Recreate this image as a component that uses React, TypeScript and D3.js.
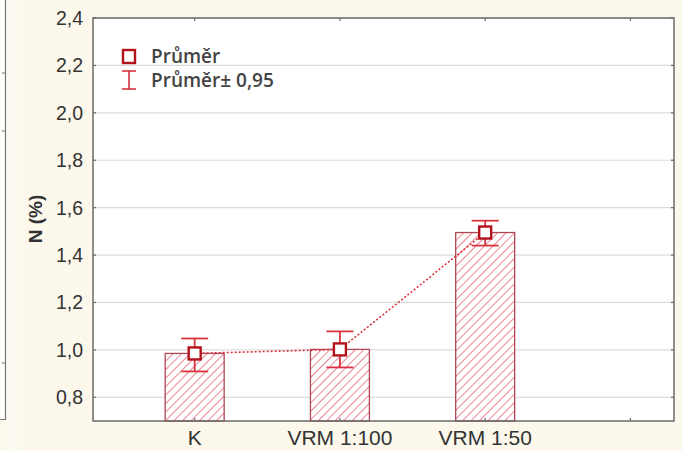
import React from "react";
import * as d3 from "d3";

const categories = ["K", "VRM 1:100", "VRM 1:50"];
const means = [0.985, 1.002, 1.495];
const upper = [1.048, 1.078, 1.545];
const lower = [0.909, 0.926, 1.44];
const yTicks = [0.8, 1.0, 1.2, 1.4, 1.6, 1.8, 2.0, 2.2, 2.4];
const xSlots = [1, 2, 3, 4];
const legendLabels = ["Průměr", "Průměr± 0,95"];
const yLabel = "N (%)";

const W = 682;
const H = 451;
const left = 93;
const right = 674;
const top = 18;
const bottom = 421;

export default function App() {
  const x = d3.scaleLinear().domain([0.3, 4.3]).range([left, right]);
  const y = d3.scaleLinear().domain([0.7, 2.4]).range([bottom, top]);
  const barW = x(1.406) - x(1);
  const fmt = (v: number) => v.toFixed(1).replace(".", ",");
  const line = d3
    .line<number>()
    .x((_, i) => x(i + 1))
    .y((d) => y(d));
  const markRed = "#b3121c";
  const errRed = "#d9343f";
  const axisCol = "#6a6a6a";
  const capW = 27;

  return (
    <svg
      width={W}
      height={H}
      style={{ position: "absolute", left: 0, top: 0 }}
      fontFamily="'Liberation Sans', Arial, sans-serif"
    >
      <defs>
        <pattern
          id="hatch"
          patternUnits="userSpaceOnUse"
          width={6}
          height={6}
          patternTransform="rotate(45)"
        >
          <rect width={6} height={6} fill="#ffffff" />
          <line x1={0} y1={0} x2={0} y2={6} stroke="#e46a76" strokeWidth={1.6} />
        </pattern>
      </defs>
      <rect x={0} y={0} width={W} height={H} fill="#fcf8ec" />
      {/* neighbour panel edge */}
      <rect x={0} y={0} width={5} height={419} fill="#fdfdfb" />
      <rect x={6} y={0} width={12} height={H} fill="#fdfaf2" />
      <path d="M5.5,0 V419.5 H0" fill="none" stroke="#777" strokeWidth={1.2} />
      {[73, 131, 363].map((t) => (
        <line key={t} x1={2} x2={5} y1={t} y2={t} stroke="#777" />
      ))}

      {/* plot area */}
      <rect x={left} y={top} width={right - left} height={bottom - top} fill="#ffffff" />
      {yTicks.map((t) => (
        <line
          key={"g" + t}
          x1={left}
          x2={right}
          y1={y(t)}
          y2={y(t)}
          stroke="#dcdcdc"
          strokeWidth={1.2}
        />
      ))}

      {/* bars */}
      {categories.map((c, i) => (
        <rect
          key={"b" + c}
          x={x(i + 1) - barW / 2}
          y={y(means[i])}
          width={barW}
          height={bottom - y(means[i])}
          fill="url(#hatch)"
          stroke="#b04654"
          strokeWidth={1.3}
        />
      ))}

      {/* dotted line */}
      <path
        d={line(means) || ""}
        fill="none"
        stroke={errRed}
        strokeWidth={1.6}
        strokeDasharray="2,2"
      />

      {/* error bars */}
      {categories.map((c, i) => {
        const cx = x(i + 1);
        return (
          <g key={"e" + c} stroke={errRed} strokeWidth={1.8}>
            <line x1={cx} x2={cx} y1={y(upper[i])} y2={y(lower[i])} />
            <line x1={cx - capW / 2} x2={cx + capW / 2} y1={y(upper[i])} y2={y(upper[i])} />
            <line x1={cx - capW / 2} x2={cx + capW / 2} y1={y(lower[i])} y2={y(lower[i])} />
          </g>
        );
      })}

      {/* markers */}
      {categories.map((c, i) => (
        <rect
          key={"m" + c}
          x={x(i + 1) - 6}
          y={y(means[i]) - 6}
          width={12}
          height={12}
          fill="#ffffff"
          stroke={markRed}
          strokeWidth={2.4}
        />
      ))}

      {/* frame */}
      <rect
        x={left}
        y={top}
        width={right - left}
        height={bottom - top}
        fill="none"
        stroke={axisCol}
        strokeWidth={1.5}
      />
      {yTicks.map((t) => (
        <g key={"t" + t} stroke={axisCol} strokeWidth={1.2}>
          <line x1={left} x2={left + 3} y1={y(t)} y2={y(t)} />
          <line x1={right - 3} x2={right} y1={y(t)} y2={y(t)} />
        </g>
      ))}
      {xSlots.map((s) => (
        <g key={"xt" + s} stroke={axisCol} strokeWidth={1.2}>
          <line x1={x(s)} x2={x(s)} y1={bottom} y2={bottom - 3} />
          <line x1={x(s)} x2={x(s)} y1={top} y2={top + 3} />
        </g>
      ))}

      {/* y tick labels */}
      {yTicks.map((t) => (
        <text
          key={"yl" + t}
          x={left - 10}
          y={y(t)}
          dy="0.36em"
          textAnchor="end"
          fontSize={19.5}
          fill="#333"
        >
          {fmt(t)}
        </text>
      ))}
      {/* x labels */}
      {categories.map((c, i) => (
        <text
          key={"xl" + c}
          x={x(i + 1)}
          y={445}
          textAnchor="middle"
          fontSize={21}
          fill="#333"
        >
          {c}
        </text>
      ))}
      {/* y label */}
      <text
        transform={`translate(42,219) rotate(-90)`}
        textAnchor="middle"
        fontSize={19}
        fontWeight="bold"
        fill="#333"
      >
        {yLabel}
      </text>

      {/* legend */}
      <g>
        <rect x={123} y={50} width={12} height={13} fill="#fff" stroke={markRed} strokeWidth={2.4} />
        <g stroke={errRed} strokeWidth={1.6}>
          <line x1={129} x2={129} y1={71} y2={89} />
          <line x1={122} x2={136} y1={71} y2={71} />
          <line x1={122} x2={136} y1={89} y2={89} />
        </g>
        <text
          x={151}
          y={63}
          fontSize={19}
          fontWeight={600}
          fontFamily="'Open Sans', 'Noto Sans', sans-serif"
          fill="#444"
        >
          {legendLabels[0]}
        </text>
        <text
          x={151}
          y={87}
          fontSize={19}
          fontWeight={600}
          fontFamily="'Open Sans', 'Noto Sans', sans-serif"
          fill="#444"
        >
          {legendLabels[1]}
        </text>
      </g>
    </svg>
  );
}
